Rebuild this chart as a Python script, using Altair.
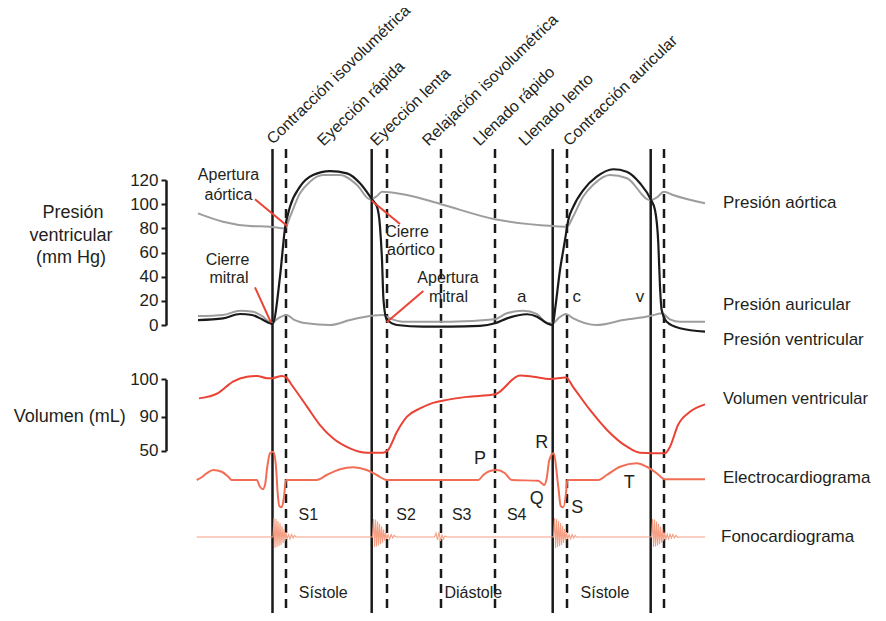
import altair as alt
import pandas as pd

# ---------------- data (time in arbitrary units) ----------------
solid_t = [272.5, 371.7, 552.7, 650.7]
dashed_t = [286.0, 387.0, 441.0, 495.0, 567.0, 664.0]

phase_names = ["Contracción isovolumétrica", "Eyección rápida", "Eyección lenta",
               "Relajación isovolumétrica", "Llenado rápido", "Llenado lento",
               "Contracción auricular"]
phase_t = [273.0, 323.5, 376.5, 428.5, 479.5, 525.0, 569.5]
phase_p = [149.0, 147.5, 147.5, 147.5, 147.5, 147.5, 147.5]

# pressures (mm Hg)
aortic_t = [198, 223, 250, 270, 285, 290, 300, 310, 323, 340, 357, 370, 377, 382, 407,
            441, 495, 553, 567, 573, 583, 593, 610, 627, 650, 657, 664, 673, 705]
aortic_p = [92.4, 85.5, 81.9, 81.4, 80.0, 89.6, 109.0, 118.6, 124.1, 124.1, 115.9, 104.0,
            106.8, 110.3, 107.6, 100.0, 87.5, 81.9, 81.4, 89.6, 106.2, 115.9, 124.1, 121.4,
            103.4, 105.7, 110.3, 107.6, 100.7]

vent_t = [198, 223, 240, 252, 262, 270, 272.5, 280, 285, 290, 300, 313, 330, 347, 360, 372,
          377, 380, 382, 383.5, 386.7, 397, 423, 450, 480, 495, 507, 527, 537, 547, 552.7,
          555, 560, 565, 568.3, 573.3, 583.3, 596.7, 613.3, 626.7, 640, 650.7, 655, 658.3,
          660, 661.7, 666.7, 680, 705]
vent_p = [4.1, 5.5, 9.1, 8.3, 4.7, 1.4, 0.8, 40.0, 80.0, 97.9, 114.5, 124.1, 127.4, 125.5,
          117.3, 104.0, 97.9, 81.4, 53.8, 20.7, 4.7, 0.0, -1.4, -1.4, -0.8, 1.4, 5.5, 8.9,
          6.9, 1.4, 0.0, 12.4, 45.5, 70.3, 86.9, 97.9, 111.7, 122.7, 128.9, 126.9, 117.3,
          104.0, 95.2, 67.6, 31.7, 12.4, 2.7, -2.7, -5.5]

atrial_t = [198, 223, 240, 253, 263, 271.7, 276.7, 286.7, 293.3, 306.7, 330, 350, 370, 383.3,
            390, 403.3, 450, 495, 506.7, 523.3, 536.7, 546.7, 552.7, 558.3, 566, 573.3, 596.7,
            623.3, 650, 661.7, 670, 680, 705]
atrial_p = [7.4, 8.3, 11.8, 11.0, 6.9, 1.4, 4.7, 8.3, 4.7, 1.4, 0.0, 4.1, 7.4, 8.3, 5.5, 2.7,
            2.7, 4.7, 9.7, 11.8, 9.1, 1.9, 1.4, 5.5, 9.1, 5.5, 0.0, 4.1, 7.4, 9.7, 4.7, 2.7, 2.7]

# ventricular volume (mL)
vol_t = [199, 218, 233, 247, 257, 267, 272, 282, 286, 293, 307, 320, 333, 350, 367, 383, 388,
         397, 407, 420, 433, 447, 467, 495, 520, 533, 550, 566, 573, 590, 607, 627, 640, 665,
         670, 678, 690, 705]
vol_ml = [94.9, 96.3, 99.4, 100.7, 100.9, 100.3, 100.3, 100.9, 100.5, 98.0, 92.7, 80.2, 64.6,
          52.8, 47.6, 47.6, 50.8, 72.4, 90.0, 92.2, 93.7, 94.5, 95.3, 96.0, 101.0, 100.7,
          100.1, 100.5, 98.0, 91.8, 74.4, 54.7, 47.6, 46.9, 54.7, 80.2, 91.3, 93.3]

# ECG (mV)
ecg_t = [196.7, 201.7, 206.7, 213.3, 221.7, 228.3, 231.7, 256.7, 260, 262.7, 265, 267.3, 270,
         273.3, 276, 277.7, 279.3, 281.7, 284, 286, 316.7, 326.7, 340, 353.3, 366.7, 376.7,
         386.7, 478.3, 483.3, 490, 496.7, 505, 511.7, 538.3, 541.7, 544.3, 546.7, 549.3,
         553.5, 558.3, 560.7, 563.3, 566, 567.3, 598.3, 606.7, 620, 636.7, 646.7, 656.7, 665,
         705]
ecg_mv = [0.0, 0.11, 0.27, 0.40, 0.33, 0.13, 0.0, 0.0, -0.27, -0.37, -0.2, 0.53, 1.07, 1.13,
          0.53, -0.53, -1.04, -1.09, -0.67, 0.0, 0.0, 0.2, 0.43, 0.51, 0.4, 0.2, 0.0, 0.0, 0.2,
          0.36, 0.4, 0.27, 0.0, -0.03, -0.13, -0.2, 0.07, 0.8, 1.07, -0.27, -1.04, -1.09,
          -0.53, 0.0, 0.0, 0.2, 0.53, 0.67, 0.53, 0.27, 0.03, 0.03]

# phonocardiogram (arbitrary amplitude)
phono_base = [(196.7, 0.0), (272.4, 0.0), (296.5, 0.0), (372.0, 0.0), (396.5, 0.0),
              (434.0, 0.0), (448.0, 0.0), (553.0, 0.0), (577.0, 0.0), (651.0, 0.0),
              (681.0, 0.0), (705.0, 0.0)]
s1_a = [(273.0, 0.0), (274.0, 0.95), (275.0, -0.55), (276.0, 0.9), (277.0, -0.5),
        (278.0, 0.8), (279.0, -0.45), (280.0, 0.7), (281.0, -0.4), (282.0, 0.55),
        (283.0, -0.3), (284.0, 0.4), (285.0, -0.2), (286.0, 0.25), (287.0, -0.1),
        (288.5, 0.12), (290.0, -0.1), (291.5, 0.12), (293.0, -0.05), (294.5, 0.08),
        (296.0, 0.0)]
s2_a = [(372.6, 0.0), (373.6, 0.9), (374.6, -0.5), (375.6, 0.88), (376.6, -0.48),
        (377.6, 0.78), (378.6, -0.42), (379.6, 0.66), (380.6, -0.36), (381.6, 0.52),
        (382.6, -0.28), (383.6, 0.38), (384.6, -0.18), (385.6, 0.22), (386.6, -0.1),
        (388.1, 0.12), (389.6, -0.1), (391.1, 0.12), (392.6, -0.05), (394.1, 0.08),
        (396.0, 0.0)]
s3_a = [(434.5, 0.0), (436.0, 0.2), (437.5, -0.15), (439.0, 0.25), (440.5, -0.2),
        (442.0, 0.1), (443.5, -0.1), (445.0, 0.05), (447.0, 0.0)]
s1_b = [(553.6, 0.0), (554.6, 0.95), (555.6, -0.55), (556.6, 0.9), (557.6, -0.5),
        (558.6, 0.8), (559.6, -0.45), (560.6, 0.7), (561.6, -0.4), (562.6, 0.55),
        (563.6, -0.3), (564.6, 0.4), (565.6, -0.2), (566.6, 0.25), (567.6, -0.1),
        (569.1, 0.12), (570.6, -0.1), (572.1, 0.12), (573.6, -0.05), (575.1, 0.08),
        (576.5, 0.0)]
s2_b = [(651.6, 0.0), (652.6, 0.9), (653.6, -0.5), (654.6, 0.88), (655.6, -0.48),
        (656.6, 0.78), (657.6, -0.42), (658.6, 0.66), (659.6, -0.36), (660.6, 0.52),
        (661.6, -0.28), (662.6, 0.38), (663.6, -0.18), (664.6, 0.22), (665.8, -0.14),
        (667.2, 0.14), (668.6, -0.1), (670.0, 0.14), (671.4, -0.06), (672.8, 0.12),
        (674.4, -0.04), (676.0, 0.08), (677.8, -0.02), (680.0, 0.0)]

# text annotations
left_title = ["Presión", "ventricular", "(mm Hg)"]
left_title_t = [73, 71, 71]
left_title_p = [92.7, 73.7, 55.4]

ann_labels = ["Apertura", "aórtica", "Cierre", "aórtico", "Cierre", "mitral", "Apertura", "mitral"]
ann_t = [228.5, 228.5, 407.0, 411.0, 227.5, 229.0, 448.0, 448.5]
ann_p = [124.1, 107.6, 77.2, 62.1, 53.8, 38.6, 38.6, 23.4]

wave_labels = ["a", "c", "v"]
wave_t = [521.7, 576.7, 640.0]
wave_p = [23.4, 23.4, 23.4]

# red leader lines: (t1, p1) -> (t2, p2)
lead_t1 = [255.0, 371.7, 255.0, 423.3]
lead_p1 = [104.0, 102.9, 31.2, 28.1]
lead_t2 = [287.3, 400.0, 271.0, 386.7]
lead_p2 = [81.9, 83.6, 1.9, 2.2]

right_pressure = ["Presión aórtica", "Presión auricular", "Presión ventricular"]
right_pressure_p = [100.7, 16.6, -12.4]

ecg_letters = ["P", "Q", "R", "S", "T"]
ecg_letters_t = [480.0, 536.7, 541.7, 577.3, 629.3]
ecg_letters_mv = [0.83, -0.77, 1.47, -1.13, -0.11]

sound_labels = ["S1", "S2", "S3", "S4"]
sound_t = [308.3, 406.0, 461.7, 516.7]
sound_a = [1.1, 1.1, 1.1, 1.1]

period_labels = ["Sístole", "Diástole", "Sístole"]
period_t = [323.3, 473.3, 605.0]
period_a = [-2.82, -2.82, -2.82]

RIGHT_T = 723.0

# ---------------- styling ----------------
FONT = "Liberation Sans"
TXT = "#231F20"
BLACK = "#1A1A1A"
GRAY = "#9D9D9D"
RED = "#EA4234"
ECG_C = "#F26D55"
PHONO_C = "#F5A085"


def xs():
    return alt.Scale(domain=[166, 870], nice=False, zero=False)


def p_scale():
    return alt.Scale(domain=[0, 120], range=[317, 172], nice=False, zero=False)


def v_scale():
    return alt.Scale(domain=[50, 90, 100], range=[442.7, 408.7, 371.3], nice=False, zero=False)


def e_scale():
    return alt.Scale(domain=[-1, 1], range=[497, 447], nice=False, zero=False)


def f_scale():
    return alt.Scale(domain=[-1, 1], range=[549, 509], nice=False, zero=False)


def axis_left(values):
    return alt.Axis(orient="left", values=values, title=None, grid=False, ticks=True,
                    tickSize=5, tickWidth=2, tickColor=BLACK, domainColor=BLACK,
                    domainWidth=2.5, labelFont=FONT, labelFontSize=17, labelColor=TXT,
                    labelPadding=3, labelFlush=False, labelOverlap=False)


def line(df, field, scale, color, width, axis=None, interp="monotone"):
    return alt.Chart(df).mark_line(color=color, strokeWidth=width, interpolate=interp).encode(
        x=alt.X("t:Q", scale=xs(), axis=None),
        y=alt.Y(f"{field}:Q", scale=scale, axis=axis),
        order="t:Q",
    )


def text(df, field, scale, size, align="center", baseline="middle", angle=0):
    return alt.Chart(df).mark_text(font=FONT, fontSize=size, color=TXT, align=align,
                                   baseline=baseline, angle=angle).encode(
        x=alt.X("t:Q", scale=xs(), axis=None),
        y=alt.Y(f"{field}:Q", scale=scale, axis=None),
        text="label:N",
    )


# ---------------- frames ----------------
aortic_df = pd.DataFrame({"t": aortic_t, "p": aortic_p})
vent_df = pd.DataFrame({"t": vent_t, "p": vent_p})
atrial_df = pd.DataFrame({"t": atrial_t, "p": atrial_p})
vol_df = pd.DataFrame({"t": vol_t, "v": vol_ml})
ecg_df = pd.DataFrame({"t": ecg_t, "e": ecg_mv})
phono_pts = sorted(phono_base + s1_a + s2_a + s3_a + s1_b + s2_b)
phono_df = pd.DataFrame(phono_pts, columns=["t", "a"])

phase_df = pd.DataFrame({"t": phase_t, "p": phase_p, "label": phase_names})
left_df = pd.DataFrame({"t": left_title_t, "p": left_title_p, "label": left_title})
ann_df = pd.DataFrame({"t": ann_t, "p": ann_p, "label": ann_labels})
wave_df = pd.DataFrame({"t": wave_t, "p": wave_p, "label": wave_labels})
lead_df = pd.DataFrame({"t1": lead_t1, "p1": lead_p1, "t2": lead_t2, "p2": lead_p2})
rp_df = pd.DataFrame({"t": [RIGHT_T] * 3, "p": right_pressure_p, "label": right_pressure})

vol_lab_left = pd.DataFrame({"t": [69.7], "v": [90.0], "label": ["Volumen (mL)"]})
vol_lab_right = pd.DataFrame({"t": [RIGHT_T], "v": [94.7], "label": ["Volumen ventricular"]})
ecg_lab_right = pd.DataFrame({"t": [RIGHT_T], "e": [0.07], "label": ["Electrocardiograma"]})
ecg_let_df = pd.DataFrame({"t": ecg_letters_t, "e": ecg_letters_mv, "label": ecg_letters})
phono_lab_right = pd.DataFrame({"t": [RIGHT_T - 2], "a": [0.0], "label": ["Fonocardiograma"]})
sound_df = pd.DataFrame({"t": sound_t, "a": sound_a, "label": sound_labels})
period_df = pd.DataFrame({"t": period_t, "a": period_a, "label": period_labels})

# ---------------- layers ----------------
rules_solid = alt.Chart(pd.DataFrame({"t": solid_t})).mark_rule(
    color=BLACK, strokeWidth=2.5).encode(
    x=alt.X("t:Q", scale=xs(), axis=None), y=alt.value(141), y2=alt.value(605))
rules_dashed = alt.Chart(pd.DataFrame({"t": dashed_t})).mark_rule(
    color=BLACK, strokeWidth=2.5, strokeDash=[9, 6]).encode(
    x=alt.X("t:Q", scale=xs(), axis=None), y=alt.value(141), y2=alt.value(605))

leaders = alt.Chart(lead_df).mark_rule(color=RED, strokeWidth=2).encode(
    x=alt.X("t1:Q", scale=xs(), axis=None), x2="t2:Q",
    y=alt.Y("p1:Q", scale=p_scale(), axis=None), y2="p2:Q")

layers = [
    rules_solid,
    rules_dashed,
    # pressure panel
    line(aortic_df, "p", p_scale(), GRAY, 2, axis=axis_left([0, 20, 40, 60, 80, 100, 120])),
    line(atrial_df, "p", p_scale(), GRAY, 2),
    line(vent_df, "p", p_scale(), BLACK, 2.2),
    leaders,
    text(phase_df, "p", p_scale(), 16, align="left", baseline="alphabetic", angle=316),
    text(left_df, "p", p_scale(), 18),
    text(ann_df, "p", p_scale(), 16),
    text(wave_df, "p", p_scale(), 17),
    text(rp_df, "p", p_scale(), 17, align="left"),
    # volume panel
    line(vol_df, "v", v_scale(), RED, 2, axis=axis_left([50, 90, 100])),
    text(vol_lab_left, "v", v_scale(), 18),
    text(vol_lab_right, "v", v_scale(), 16.5, align="left"),
    # ECG panel
    line(ecg_df, "e", e_scale(), ECG_C, 2),
    text(ecg_lab_right, "e", e_scale(), 17, align="left"),
    text(ecg_let_df, "e", e_scale(), 18),
    # phonocardiogram panel
    line(phono_df, "a", f_scale(), PHONO_C, 1.1, interp="linear"),
    text(phono_lab_right, "a", f_scale(), 17, align="left"),
    text(sound_df, "a", f_scale(), 16),
    text(period_df, "a", f_scale(), 16),
]

chart = alt.layer(*layers).resolve_scale(y="independent").properties(
    width=704, height=605,
    padding={"left": 158, "top": 0, "right": 8, "bottom": 0},
    autosize=alt.AutoSizeParams(type="none"),
    background="white",
).configure_view(stroke=None)

chart.save("out.html", embed_options={"renderer": "svg", "actions": False})
